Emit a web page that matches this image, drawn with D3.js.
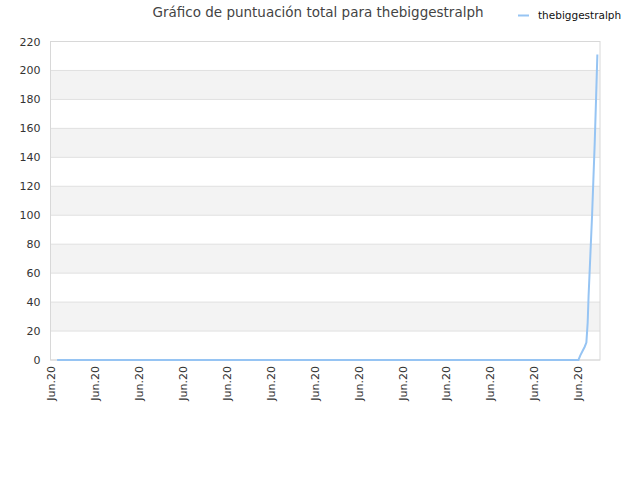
<!DOCTYPE html>
<html>
<head>
<meta charset="utf-8">
<script src="https://cdn.jsdelivr.net/npm/d3@7"></script>
<style>
  body { margin: 0; background: #fff; }
  text { font-family: "DejaVu Sans", sans-serif; }
</style>
</head>
<body>
<div id="chart"></div>
<script>
// x in tick units (one "Jun.20" label per unit), y = total score
var tickLabels = ["Jun.20","Jun.20","Jun.20","Jun.20","Jun.20","Jun.20","Jun.20",
                  "Jun.20","Jun.20","Jun.20","Jun.20","Jun.20","Jun.20"];
var xValues = [0.15, 12.01, 12.05, 12.10, 12.15, 12.19, 12.22, 12.24, 12.28, 12.32, 12.35, 12.38, 12.41, 12.44];
var scores  = [0,    0,     3,     6,     9,     12,    26,    44,    72,    100,   125,   150,   180,   211];
var yTicks = [0,20,40,60,80,100,120,140,160,180,200,220];
var seriesName = "thebiggestralph";

var W = 640, H = 480;
var m = {left: 50.5, right: 40, top: 41.5, bottom: 120};

var svg = d3.select("#chart").append("svg")
    .attr("width", W)
    .attr("height", H);

var x = d3.scaleLinear().domain([0, 12.5]).range([m.left, W - m.right]);
var y = d3.scaleLinear().domain([0, 220]).range([H - m.bottom, m.top]);

// alternating bands
for (var i = 0; i < yTicks.length - 1; i++) {
    if (i % 2 == 1) {
        svg.append("rect")
            .attr("x", m.left)
            .attr("y", y(yTicks[i + 1]))
            .attr("width", x(12.5) - m.left)
            .attr("height", y(yTicks[i]) - y(yTicks[i + 1]))
            .attr("fill", "#f3f3f3");
    }
}

// grid lines
svg.selectAll(".grid")
    .data(yTicks)
    .enter().append("line")
    .attr("x1", m.left)
    .attr("x2", x(12.5))
    .attr("y1", function(d){ return y(d); })
    .attr("y2", function(d){ return y(d); })
    .attr("stroke", "#e0e0e0")
    .attr("stroke-width", 1);

// plot frame
svg.append("rect")
    .attr("x", m.left)
    .attr("y", m.top)
    .attr("width", x(12.5) - m.left)
    .attr("height", y(0) - m.top)
    .attr("fill", "none")
    .attr("stroke", "#d8d8d8")
    .attr("stroke-width", 1);

// y axis
var yAxis = d3.axisLeft(y).tickValues(yTicks).tickSize(0).tickPadding(10);
var gy = svg.append("g")
    .attr("transform", "translate(" + m.left + ",0)")
    .call(yAxis);
gy.select(".domain").remove();
gy.selectAll("text")
    .attr("fill", "#333")
    .style("font-size", "11px");

// x axis
var xAxis = d3.axisBottom(x)
    .tickValues(d3.range(tickLabels.length))
    .tickFormat(function(d, i){ return tickLabels[i]; })
    .tickSize(0);
var gx = svg.append("g")
    .attr("transform", "translate(0," + y(0) + ")")
    .call(xAxis);
gx.select(".domain").remove();
gx.selectAll("text")
    .attr("fill", "#333")
    .style("font-size", "11px")
    .attr("text-anchor", "end")
    .attr("transform", "rotate(-90)")
    .attr("x", -6)
    .attr("y", 0)
    .attr("dy", "0.35em");

// line
var pts = xValues.map(function(d, i){ return [d, scores[i]]; });
var line = d3.line()
    .x(function(d){ return x(d[0]); })
    .y(function(d){ return y(d[1]); });

svg.append("path")
    .datum(pts)
    .attr("d", line)
    .attr("fill", "none")
    .attr("stroke", "#96c4f3")
    .attr("stroke-width", 2);

// title
svg.append("text")
    .attr("x", 318)
    .attr("y", 17)
    .attr("text-anchor", "middle")
    .attr("fill", "#444")
    .style("font-size", "13.5px")
    .text("Gráfico de puntuación total para thebiggestralph");

// legend
svg.append("line")
    .attr("x1", 518).attr("x2", 529)
    .attr("y1", 15.5).attr("y2", 15.5)
    .attr("stroke", "#96c4f3")
    .attr("stroke-width", 2);
svg.append("text")
    .attr("x", 538)
    .attr("y", 18.5)
    .attr("fill", "#111")
    .style("font-size", "10.5px")
    .text(seriesName);
</script>
</body>
</html>
